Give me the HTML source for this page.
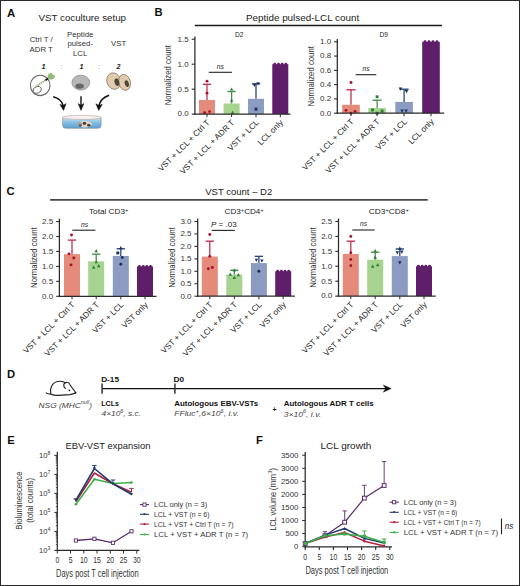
<!DOCTYPE html>
<html><head><meta charset="utf-8"><style>
html,body{margin:0;padding:0;background:#fff;}
body{width:520px;height:586px;overflow:hidden;font-family:"Liberation Sans", sans-serif;}
svg{display:block;}
</style></head><body>
<svg width="520" height="586" viewBox="0 0 520 586" font-family='"Liberation Sans", sans-serif'>
<rect x="0.00" y="0.00" width="520.00" height="586.00" fill="#fff" />
<text x="6.90" y="16.90" font-size="11.4" fill="#111" font-weight="bold" >A</text>
<text x="38.60" y="21.00" font-size="9.6" fill="#222" textLength="87.4" lengthAdjust="spacingAndGlyphs" >VST coculture setup</text>
<text x="41.20" y="42.30" font-size="7.8" fill="#333" text-anchor="middle" >Ctrl T /</text>
<text x="41.20" y="51.80" font-size="7.8" fill="#333" text-anchor="middle" >ADR T</text>
<text x="80.20" y="37.00" font-size="7.8" fill="#333" text-anchor="middle" >Peptide</text>
<text x="80.20" y="46.40" font-size="7.8" fill="#333" text-anchor="middle" >pulsed-</text>
<text x="80.20" y="55.80" font-size="7.8" fill="#333" text-anchor="middle" >LCL</text>
<text x="118.60" y="46.00" font-size="7.8" fill="#333" text-anchor="middle" >VST</text>
<text x="43.50" y="68.80" font-size="7.2" fill="#222" text-anchor="middle" font-weight="bold" font-style="italic" >1</text>
<text x="61.60" y="68.80" font-size="7.2" fill="#888" text-anchor="middle" font-style="italic" >:</text>
<text x="81.60" y="68.80" font-size="7.2" fill="#222" text-anchor="middle" font-weight="bold" font-style="italic" >1</text>
<text x="99.20" y="68.80" font-size="7.2" fill="#888" text-anchor="middle" font-style="italic" >:</text>
<text x="118.40" y="68.80" font-size="7.2" fill="#222" text-anchor="middle" font-weight="bold" font-style="italic" >2</text>
<ellipse cx="40.2" cy="85.4" rx="9.8" ry="10.2" fill="#fff" stroke="#666" stroke-width="1.1"/>
<ellipse cx="37.2" cy="89.8" rx="4.3" ry="3.2" transform="rotate(-20 37.2 89.8)" fill="#fff" stroke="#666" stroke-width="0.9"/>
<line x1="36" y1="86.5" x2="46.5" y2="79.5" stroke="#7a9a60" stroke-width="1.6" stroke-dasharray="1.2 0.8"/>
<line x1="45.5" y1="80.2" x2="48" y2="78.5" stroke="#111" stroke-width="1.8"/>
<path d="M48.0 78.6 C47.6 76.2 48.4 73.4 50.6 73.2 C52.0 73.1 52.6 74.3 52.4 75.0 C54.0 74.6 55.2 76.0 54.4 77.6 C53.6 79.2 50.6 79.8 48.0 78.6 Z" fill="#94bc78" stroke="#7a9f60" stroke-width="0.5"/>
<ellipse cx="80.8" cy="82.6" rx="8.9" ry="7.4" fill="#b8b8b8" stroke="#8e8e8e" stroke-width="0.8"/>
<ellipse cx="79.6" cy="86.1" rx="4.3" ry="2.6" fill="#666"/>
<ellipse cx="113.8" cy="81.1" rx="6.9" ry="8.3" transform="rotate(-18 113.8 81.1)" fill="#e2ccae" stroke="#8f7b66" stroke-width="0.8"/>
<ellipse cx="124.6" cy="82.4" rx="5.8" ry="8.1" transform="rotate(-15 124.6 82.4)" fill="#e2ccae" stroke="#8f7b66" stroke-width="0.8"/>
<ellipse cx="116.9" cy="82.2" rx="2.3" ry="3.9" transform="rotate(-15 116.9 82.2)" fill="#4c463b"/>
<ellipse cx="126.8" cy="83.6" rx="2.0" ry="3.5" transform="rotate(-15 126.8 83.6)" fill="#4c463b"/>
<path d="M53.2 96.8 Q61.5 98.8 63.3 106" fill="none" stroke="#111" stroke-width="1.5"/>
<path d="M59.9 104.5 L63.6 110.4 L66.1 103.6 L63.2 105.4 Z" fill="#111" stroke="#111" stroke-width="0.5" stroke-linejoin="round"/>
<path d="M81 96.3 L81 106" fill="none" stroke="#222" stroke-width="1.5"/>
<path d="M78.1 103.6 L81 110.4 L83.9 103.6 L81 105.2 Z" fill="#111" stroke="#111" stroke-width="0.5" stroke-linejoin="round"/>
<path d="M109.1 95.2 Q100.6 98 98.9 106" fill="none" stroke="#111" stroke-width="1.5"/>
<path d="M95.9 103.8 L98.7 110.4 L102.3 104.3 L99.1 105.5 Z" fill="#111" stroke="#111" stroke-width="0.5" stroke-linejoin="round"/>
<defs><linearGradient id="dg" x1="0" y1="0" x2="0" y2="1"><stop offset="0" stop-color="#cfe7f4"/><stop offset="0.45" stop-color="#86bfe2"/><stop offset="1" stop-color="#5b9fd0"/></linearGradient></defs>
<path d="M62.6 117.4 L62.6 125.2 Q62.6 128.3 66.2 128.3 L97.6 128.3 Q101.1 128.3 101.1 125.2 L101.1 117.4 Z" fill="url(#dg)" stroke="#7d8c98" stroke-width="0.6"/>
<ellipse cx="81.85" cy="117.4" rx="19.25" ry="2.1" fill="#f6f0ef" stroke="#b8a4a0" stroke-width="0.6"/>
<ellipse cx="85" cy="124.2" rx="7" ry="3.2" fill="#e3d3c4"/>
<ellipse cx="79.5" cy="124.3" rx="2.6" ry="2.2" fill="#9aa4a8"/>
<ellipse cx="84.5" cy="123.4" rx="1.8" ry="1.4" fill="#3d3a30"/>
<ellipse cx="88.8" cy="125.2" rx="1.7" ry="1.3" fill="#3d3a30"/>
<ellipse cx="80.3" cy="125.6" rx="1.5" ry="1.1" fill="#4a4a52"/>
<text x="154.50" y="15.90" font-size="11.2" fill="#111" font-weight="bold" >B</text>
<text x="245.90" y="20.90" font-size="9.8" fill="#222" textLength="113.3" lengthAdjust="spacingAndGlyphs" >Peptide pulsed-LCL count</text>
<line x1="194.80" y1="25.50" x2="441.90" y2="25.50" stroke="#1a1a1a" stroke-width="1.35" />
<text x="239.30" y="37.00" font-size="6.6" fill="#222" text-anchor="middle" >D2</text>
<text x="383.60" y="36.60" font-size="6.6" fill="#222" text-anchor="middle" >D9</text>
<rect x="199.00" y="99.98" width="16.00" height="14.12" fill="#e48b7b" />
<line x1="207.00" y1="99.98" x2="207.00" y2="84.31" stroke="#bf3352" stroke-width="1.3" />
<line x1="202.84" y1="84.31" x2="211.16" y2="84.31" stroke="#bf3352" stroke-width="1.4" />
<circle cx="207.00" cy="81.17" r="1.45" fill="#a80f2c"/>
<circle cx="207.00" cy="93.14" r="1.45" fill="#a80f2c"/>
<circle cx="204.60" cy="112.60" r="1.45" fill="#a80f2c"/>
<circle cx="209.50" cy="111.60" r="1.45" fill="#a80f2c"/>
<rect x="223.60" y="103.52" width="16.00" height="10.58" fill="#a7d391" />
<line x1="231.60" y1="103.52" x2="231.60" y2="91.50" stroke="#4a8f50" stroke-width="1.3" />
<line x1="227.44" y1="91.50" x2="235.76" y2="91.50" stroke="#4a8f50" stroke-width="1.4" />
<path d="M231.60 87.41L233.34 90.60L229.86 90.60Z" fill="#2f7d36"/>
<path d="M231.60 98.39L233.34 101.58L229.86 101.58Z" fill="#2f7d36"/>
<path d="M232.60 110.86L234.34 114.05L230.86 114.05Z" fill="#2f7d36"/>
<rect x="248.00" y="98.78" width="16.00" height="15.32" fill="#8c9bc2" />
<line x1="256.00" y1="98.78" x2="256.00" y2="83.81" stroke="#2a4a7c" stroke-width="1.3" />
<line x1="251.84" y1="83.81" x2="260.16" y2="83.81" stroke="#2a4a7c" stroke-width="1.4" />
<path d="M254.50 86.90L256.24 83.71L252.76 83.71Z" fill="#1b2f58"/>
<path d="M258.00 85.40L259.74 82.21L256.26 82.21Z" fill="#1b2f58"/>
<rect x="254.55" y="107.66" width="2.90" height="2.90" fill="#1b2f58"/>
<rect x="272.30" y="64.20" width="16.00" height="49.90" fill="#5f1e6a" />
<circle cx="274.80" cy="64.20" r="1.45" fill="#5f1e6a"/>
<circle cx="278.50" cy="64.20" r="1.45" fill="#5f1e6a"/>
<circle cx="282.10" cy="64.20" r="1.45" fill="#5f1e6a"/>
<circle cx="285.80" cy="64.20" r="1.45" fill="#5f1e6a"/>
<line x1="194.90" y1="36.40" x2="194.90" y2="114.70" stroke="#2a2a2a" stroke-width="1.25" />
<line x1="194.30" y1="114.10" x2="290.50" y2="114.10" stroke="#2a2a2a" stroke-width="1.25" />
<line x1="191.70" y1="114.10" x2="194.90" y2="114.10" stroke="#2a2a2a" stroke-width="1.1" />
<text x="188.70" y="116.45" font-size="8.0" fill="#333" text-anchor="end" >0.0</text>
<line x1="191.70" y1="89.15" x2="194.90" y2="89.15" stroke="#2a2a2a" stroke-width="1.1" />
<text x="188.70" y="91.50" font-size="8.0" fill="#333" text-anchor="end" >0.5</text>
<line x1="191.70" y1="64.20" x2="194.90" y2="64.20" stroke="#2a2a2a" stroke-width="1.1" />
<text x="188.70" y="66.55" font-size="8.0" fill="#333" text-anchor="end" >1.0</text>
<line x1="191.70" y1="39.25" x2="194.90" y2="39.25" stroke="#2a2a2a" stroke-width="1.1" />
<text x="188.70" y="41.60" font-size="8.0" fill="#333" text-anchor="end" >1.5</text>
<line x1="207.00" y1="114.10" x2="207.00" y2="117.10" stroke="#2a2a2a" stroke-width="1" />
<line x1="231.60" y1="114.10" x2="231.60" y2="117.10" stroke="#2a2a2a" stroke-width="1" />
<line x1="256.00" y1="114.10" x2="256.00" y2="117.10" stroke="#2a2a2a" stroke-width="1" />
<line x1="280.30" y1="114.10" x2="280.30" y2="117.10" stroke="#2a2a2a" stroke-width="1" />
<text x="210.30" y="123.10" font-size="8.2" fill="#222" text-anchor="end" transform="rotate(-45 210.30 123.10)" >VST + LCL + Ctrl T</text>
<text x="234.90" y="123.10" font-size="8.2" fill="#222" text-anchor="end" transform="rotate(-45 234.90 123.10)" >VST + LCL + ADR T</text>
<text x="259.30" y="123.10" font-size="8.2" fill="#222" text-anchor="end" transform="rotate(-45 259.30 123.10)" >VST + LCL</text>
<text x="283.60" y="123.10" font-size="8.2" fill="#222" text-anchor="end" transform="rotate(-45 283.60 123.10)" >LCL only</text>
<text x="171.40" y="75.20" font-size="8.4" fill="#333" text-anchor="middle" textLength="60.3" lengthAdjust="spacingAndGlyphs" transform="rotate(-90 171.40 75.20)" >Normalized count</text>
<line x1="208.80" y1="72.30" x2="231.90" y2="72.30" stroke="#222" stroke-width="1.1" />
<text x="220.30" y="68.60" font-size="6.6" fill="#222" text-anchor="middle" font-style="italic" >ns</text>
<rect x="342.20" y="104.77" width="17.60" height="8.43" fill="#e48b7b" />
<line x1="351.00" y1="104.77" x2="351.00" y2="89.78" stroke="#bf3352" stroke-width="1.3" />
<line x1="346.42" y1="89.78" x2="355.58" y2="89.78" stroke="#bf3352" stroke-width="1.4" />
<circle cx="351.00" cy="82.50" r="1.45" fill="#a80f2c"/>
<circle cx="346.00" cy="110.34" r="1.45" fill="#a80f2c"/>
<circle cx="351.00" cy="113.20" r="1.45" fill="#a80f2c"/>
<circle cx="355.00" cy="111.42" r="1.45" fill="#a80f2c"/>
<rect x="368.30" y="107.99" width="17.60" height="5.21" fill="#a7d391" />
<line x1="377.10" y1="107.99" x2="377.10" y2="100.21" stroke="#4a8f50" stroke-width="1.3" />
<line x1="372.52" y1="100.21" x2="381.68" y2="100.21" stroke="#4a8f50" stroke-width="1.4" />
<rect x="375.65" y="95.33" width="2.90" height="2.90" fill="#2f7d36"/>
<rect x="371.05" y="108.54" width="2.90" height="2.90" fill="#2f7d36"/>
<rect x="375.65" y="111.75" width="2.90" height="2.90" fill="#2f7d36"/>
<rect x="380.65" y="109.61" width="2.90" height="2.90" fill="#2f7d36"/>
<rect x="395.30" y="101.92" width="17.60" height="11.28" fill="#8c9bc2" />
<line x1="404.10" y1="101.92" x2="404.10" y2="89.21" stroke="#2a4a7c" stroke-width="1.3" />
<line x1="399.52" y1="89.21" x2="408.68" y2="89.21" stroke="#2a4a7c" stroke-width="1.4" />
<path d="M400.50 90.81L402.24 87.62L398.76 87.62Z" fill="#1b2f58"/>
<path d="M406.50 93.16L408.24 89.97L404.76 89.97Z" fill="#1b2f58"/>
<path d="M402.10 112.80L403.84 109.61L400.36 109.61Z" fill="#1b2f58"/>
<path d="M406.10 112.80L407.84 109.61L404.36 109.61Z" fill="#1b2f58"/>
<rect x="422.20" y="41.80" width="17.60" height="71.40" fill="#5f1e6a" />
<circle cx="425.00" cy="41.80" r="1.45" fill="#5f1e6a"/>
<circle cx="429.00" cy="41.80" r="1.45" fill="#5f1e6a"/>
<circle cx="433.00" cy="41.80" r="1.45" fill="#5f1e6a"/>
<circle cx="437.00" cy="41.80" r="1.45" fill="#5f1e6a"/>
<line x1="337.30" y1="39.00" x2="337.30" y2="113.80" stroke="#2a2a2a" stroke-width="1.25" />
<line x1="336.70" y1="113.20" x2="444.20" y2="113.20" stroke="#2a2a2a" stroke-width="1.25" />
<line x1="334.10" y1="113.20" x2="337.30" y2="113.20" stroke="#2a2a2a" stroke-width="1.1" />
<text x="331.10" y="115.55" font-size="8.0" fill="#333" text-anchor="end" >0.0</text>
<line x1="334.10" y1="98.92" x2="337.30" y2="98.92" stroke="#2a2a2a" stroke-width="1.1" />
<text x="331.10" y="101.27" font-size="8.0" fill="#333" text-anchor="end" >0.2</text>
<line x1="334.10" y1="84.64" x2="337.30" y2="84.64" stroke="#2a2a2a" stroke-width="1.1" />
<text x="331.10" y="86.99" font-size="8.0" fill="#333" text-anchor="end" >0.4</text>
<line x1="334.10" y1="70.36" x2="337.30" y2="70.36" stroke="#2a2a2a" stroke-width="1.1" />
<text x="331.10" y="72.71" font-size="8.0" fill="#333" text-anchor="end" >0.6</text>
<line x1="334.10" y1="56.08" x2="337.30" y2="56.08" stroke="#2a2a2a" stroke-width="1.1" />
<text x="331.10" y="58.43" font-size="8.0" fill="#333" text-anchor="end" >0.8</text>
<line x1="334.10" y1="41.80" x2="337.30" y2="41.80" stroke="#2a2a2a" stroke-width="1.1" />
<text x="331.10" y="44.15" font-size="8.0" fill="#333" text-anchor="end" >1.0</text>
<line x1="351.00" y1="113.20" x2="351.00" y2="116.20" stroke="#2a2a2a" stroke-width="1" />
<line x1="377.10" y1="113.20" x2="377.10" y2="116.20" stroke="#2a2a2a" stroke-width="1" />
<line x1="404.10" y1="113.20" x2="404.10" y2="116.20" stroke="#2a2a2a" stroke-width="1" />
<line x1="431.00" y1="113.20" x2="431.00" y2="116.20" stroke="#2a2a2a" stroke-width="1" />
<text x="354.30" y="122.20" font-size="8.2" fill="#222" text-anchor="end" transform="rotate(-45 354.30 122.20)" >VST + LCL + Ctrl T</text>
<text x="380.40" y="122.20" font-size="8.2" fill="#222" text-anchor="end" transform="rotate(-45 380.40 122.20)" >VST + LCL + ADR T</text>
<text x="407.40" y="122.20" font-size="8.2" fill="#222" text-anchor="end" transform="rotate(-45 407.40 122.20)" >VST + LCL</text>
<text x="434.30" y="122.20" font-size="8.2" fill="#222" text-anchor="end" transform="rotate(-45 434.30 122.20)" >LCL only</text>
<text x="314.20" y="76.30" font-size="8.4" fill="#333" text-anchor="middle" textLength="60.3" lengthAdjust="spacingAndGlyphs" transform="rotate(-90 314.20 76.30)" >Normalized count</text>
<line x1="355.60" y1="74.70" x2="376.30" y2="74.70" stroke="#222" stroke-width="1.1" />
<text x="366.00" y="71.00" font-size="6.6" fill="#222" text-anchor="middle" font-style="italic" >ns</text>
<text x="6.60" y="195.20" font-size="11.2" fill="#111" font-weight="bold" >C</text>
<text x="205.20" y="195.00" font-size="9.8" fill="#222" textLength="67.1" lengthAdjust="spacingAndGlyphs" >VST count – D2</text>
<line x1="50.10" y1="199.90" x2="427.70" y2="199.90" stroke="#484848" stroke-width="1.8" />
<text x="89.00" y="213.80" font-size="8.0" fill="#222" textLength="39.3" lengthAdjust="spacingAndGlyphs" >Total CD3<tspan font-size="5.6" dy="-2.3">+</tspan></text>
<text x="224.60" y="214.00" font-size="8.0" fill="#222" textLength="39.1" lengthAdjust="spacingAndGlyphs" >CD3<tspan font-size="5.6" dy="-2.3">+</tspan><tspan dy="2.3">CD4</tspan><tspan font-size="5.6" dy="-2.3">+</tspan></text>
<text x="368.80" y="214.00" font-size="8.0" fill="#222" textLength="40.0" lengthAdjust="spacingAndGlyphs" >CD3<tspan font-size="5.6" dy="-2.3">+</tspan><tspan dy="2.3">CD8</tspan><tspan font-size="5.6" dy="-2.3">+</tspan></text>
<rect x="64.00" y="254.14" width="16.00" height="42.16" fill="#e48b7b" />
<line x1="72.00" y1="254.14" x2="72.00" y2="240.09" stroke="#bf3352" stroke-width="1.3" />
<line x1="67.84" y1="240.09" x2="76.16" y2="240.09" stroke="#bf3352" stroke-width="1.4" />
<circle cx="71.50" cy="235.01" r="1.45" fill="#a80f2c"/>
<circle cx="69.00" cy="253.84" r="1.45" fill="#a80f2c"/>
<circle cx="73.80" cy="258.03" r="1.45" fill="#a80f2c"/>
<circle cx="71.00" cy="264.91" r="1.45" fill="#a80f2c"/>
<rect x="88.20" y="261.32" width="16.00" height="34.98" fill="#a7d391" />
<line x1="96.20" y1="261.32" x2="96.20" y2="254.14" stroke="#4a8f50" stroke-width="1.3" />
<line x1="92.04" y1="254.14" x2="100.36" y2="254.14" stroke="#4a8f50" stroke-width="1.4" />
<path d="M96.20 249.11L97.94 252.30L94.46 252.30Z" fill="#2f7d36"/>
<path d="M96.20 260.18L97.94 263.37L94.46 263.37Z" fill="#2f7d36"/>
<path d="M93.70 265.56L95.44 268.75L91.96 268.75Z" fill="#2f7d36"/>
<path d="M98.70 264.06L100.44 267.25L96.96 267.25Z" fill="#2f7d36"/>
<rect x="112.80" y="255.94" width="16.00" height="40.37" fill="#8c9bc2" />
<line x1="120.80" y1="255.94" x2="120.80" y2="248.76" stroke="#2a4a7c" stroke-width="1.3" />
<line x1="116.64" y1="248.76" x2="124.96" y2="248.76" stroke="#2a4a7c" stroke-width="1.4" />
<rect x="116.35" y="251.50" width="2.90" height="2.90" fill="#1b2f58"/>
<circle cx="122.30" cy="257.43" r="1.45" fill="#1b2f58"/>
<circle cx="120.80" cy="264.31" r="1.45" fill="#1b2f58"/>
<path d="M120.80 246.12L122.54 249.31L119.06 249.31Z" fill="#1b2f58"/>
<rect x="137.00" y="266.40" width="16.00" height="29.90" fill="#5f1e6a" />
<circle cx="139.50" cy="266.40" r="1.45" fill="#5f1e6a"/>
<circle cx="143.20" cy="266.40" r="1.45" fill="#5f1e6a"/>
<circle cx="146.80" cy="266.40" r="1.45" fill="#5f1e6a"/>
<circle cx="150.50" cy="266.40" r="1.45" fill="#5f1e6a"/>
<line x1="59.40" y1="218.70" x2="59.40" y2="296.90" stroke="#2a2a2a" stroke-width="1.25" />
<line x1="58.80" y1="296.30" x2="156.50" y2="296.30" stroke="#2a2a2a" stroke-width="1.25" />
<line x1="56.20" y1="296.30" x2="59.40" y2="296.30" stroke="#2a2a2a" stroke-width="1.1" />
<text x="53.20" y="298.65" font-size="8.0" fill="#333" text-anchor="end" >0.0</text>
<line x1="56.20" y1="281.35" x2="59.40" y2="281.35" stroke="#2a2a2a" stroke-width="1.1" />
<text x="53.20" y="283.70" font-size="8.0" fill="#333" text-anchor="end" >0.5</text>
<line x1="56.20" y1="266.40" x2="59.40" y2="266.40" stroke="#2a2a2a" stroke-width="1.1" />
<text x="53.20" y="268.75" font-size="8.0" fill="#333" text-anchor="end" >1.0</text>
<line x1="56.20" y1="251.45" x2="59.40" y2="251.45" stroke="#2a2a2a" stroke-width="1.1" />
<text x="53.20" y="253.80" font-size="8.0" fill="#333" text-anchor="end" >1.5</text>
<line x1="56.20" y1="236.50" x2="59.40" y2="236.50" stroke="#2a2a2a" stroke-width="1.1" />
<text x="53.20" y="238.85" font-size="8.0" fill="#333" text-anchor="end" >2.0</text>
<line x1="56.20" y1="221.55" x2="59.40" y2="221.55" stroke="#2a2a2a" stroke-width="1.1" />
<text x="53.20" y="223.90" font-size="8.0" fill="#333" text-anchor="end" >2.5</text>
<line x1="72.00" y1="296.30" x2="72.00" y2="299.30" stroke="#2a2a2a" stroke-width="1" />
<line x1="96.20" y1="296.30" x2="96.20" y2="299.30" stroke="#2a2a2a" stroke-width="1" />
<line x1="120.80" y1="296.30" x2="120.80" y2="299.30" stroke="#2a2a2a" stroke-width="1" />
<line x1="145.00" y1="296.30" x2="145.00" y2="299.30" stroke="#2a2a2a" stroke-width="1" />
<text x="75.30" y="305.30" font-size="8.2" fill="#222" text-anchor="end" transform="rotate(-45 75.30 305.30)" >VST + LCL + Ctrl T</text>
<text x="99.50" y="305.30" font-size="8.2" fill="#222" text-anchor="end" transform="rotate(-45 99.50 305.30)" >VST + LCL + ADR T</text>
<text x="124.10" y="305.30" font-size="8.2" fill="#222" text-anchor="end" transform="rotate(-45 124.10 305.30)" >VST + LCL</text>
<text x="148.30" y="305.30" font-size="8.2" fill="#222" text-anchor="end" transform="rotate(-45 148.30 305.30)" >VST only</text>
<text x="36.80" y="257.60" font-size="8.4" fill="#333" text-anchor="middle" textLength="60.6" lengthAdjust="spacingAndGlyphs" transform="rotate(-90 36.80 257.60)" >Normalized count</text>
<line x1="72.30" y1="230.20" x2="95.40" y2="230.20" stroke="#222" stroke-width="1.1" />
<text x="84.60" y="227.20" font-size="6.6" fill="#222" text-anchor="middle" font-style="italic" >ns</text>
<rect x="201.80" y="256.61" width="16.00" height="39.59" fill="#e48b7b" />
<line x1="209.80" y1="256.61" x2="209.80" y2="241.17" stroke="#bf3352" stroke-width="1.3" />
<line x1="205.64" y1="241.17" x2="213.96" y2="241.17" stroke="#bf3352" stroke-width="1.4" />
<circle cx="209.80" cy="234.45" r="1.45" fill="#a80f2c"/>
<circle cx="209.80" cy="256.36" r="1.45" fill="#a80f2c"/>
<circle cx="208.30" cy="268.81" r="1.45" fill="#a80f2c"/>
<circle cx="212.30" cy="267.56" r="1.45" fill="#a80f2c"/>
<rect x="226.30" y="274.54" width="16.00" height="21.66" fill="#a7d391" />
<line x1="234.30" y1="274.54" x2="234.30" y2="270.30" stroke="#4a8f50" stroke-width="1.3" />
<line x1="230.14" y1="270.30" x2="238.46" y2="270.30" stroke="#4a8f50" stroke-width="1.4" />
<path d="M234.30 268.31L236.04 271.50L232.56 271.50Z" fill="#2f7d36"/>
<path d="M230.30 272.55L232.04 275.74L228.56 275.74Z" fill="#2f7d36"/>
<path d="M234.30 275.78L236.04 278.97L232.56 278.97Z" fill="#2f7d36"/>
<path d="M238.30 273.05L240.04 276.24L236.56 276.24Z" fill="#2f7d36"/>
<rect x="250.90" y="263.08" width="16.00" height="33.12" fill="#8c9bc2" />
<line x1="258.90" y1="263.08" x2="258.90" y2="256.36" stroke="#2a4a7c" stroke-width="1.3" />
<line x1="254.74" y1="256.36" x2="263.06" y2="256.36" stroke="#2a4a7c" stroke-width="1.4" />
<path d="M256.40 261.83L258.14 258.64L254.66 258.64Z" fill="#1b2f58"/>
<path d="M261.90 262.58L263.64 259.39L260.16 259.39Z" fill="#1b2f58"/>
<circle cx="258.90" cy="271.30" r="1.45" fill="#1b2f58"/>
<rect x="275.20" y="271.30" width="16.00" height="24.90" fill="#5f1e6a" />
<circle cx="277.70" cy="271.30" r="1.45" fill="#5f1e6a"/>
<circle cx="281.40" cy="271.30" r="1.45" fill="#5f1e6a"/>
<circle cx="285.00" cy="271.30" r="1.45" fill="#5f1e6a"/>
<circle cx="288.70" cy="271.30" r="1.45" fill="#5f1e6a"/>
<line x1="197.70" y1="218.50" x2="197.70" y2="296.80" stroke="#2a2a2a" stroke-width="1.25" />
<line x1="197.10" y1="296.20" x2="295.00" y2="296.20" stroke="#2a2a2a" stroke-width="1.25" />
<line x1="194.50" y1="296.20" x2="197.70" y2="296.20" stroke="#2a2a2a" stroke-width="1.1" />
<text x="191.50" y="298.55" font-size="8.0" fill="#333" text-anchor="end" >0.0</text>
<line x1="194.50" y1="283.75" x2="197.70" y2="283.75" stroke="#2a2a2a" stroke-width="1.1" />
<text x="191.50" y="286.10" font-size="8.0" fill="#333" text-anchor="end" >0.5</text>
<line x1="194.50" y1="271.30" x2="197.70" y2="271.30" stroke="#2a2a2a" stroke-width="1.1" />
<text x="191.50" y="273.65" font-size="8.0" fill="#333" text-anchor="end" >1.0</text>
<line x1="194.50" y1="258.85" x2="197.70" y2="258.85" stroke="#2a2a2a" stroke-width="1.1" />
<text x="191.50" y="261.20" font-size="8.0" fill="#333" text-anchor="end" >1.5</text>
<line x1="194.50" y1="246.40" x2="197.70" y2="246.40" stroke="#2a2a2a" stroke-width="1.1" />
<text x="191.50" y="248.75" font-size="8.0" fill="#333" text-anchor="end" >2.0</text>
<line x1="194.50" y1="233.95" x2="197.70" y2="233.95" stroke="#2a2a2a" stroke-width="1.1" />
<text x="191.50" y="236.30" font-size="8.0" fill="#333" text-anchor="end" >2.5</text>
<line x1="194.50" y1="221.50" x2="197.70" y2="221.50" stroke="#2a2a2a" stroke-width="1.1" />
<text x="191.50" y="223.85" font-size="8.0" fill="#333" text-anchor="end" >3.0</text>
<line x1="209.80" y1="296.20" x2="209.80" y2="299.20" stroke="#2a2a2a" stroke-width="1" />
<line x1="234.30" y1="296.20" x2="234.30" y2="299.20" stroke="#2a2a2a" stroke-width="1" />
<line x1="258.90" y1="296.20" x2="258.90" y2="299.20" stroke="#2a2a2a" stroke-width="1" />
<line x1="283.20" y1="296.20" x2="283.20" y2="299.20" stroke="#2a2a2a" stroke-width="1" />
<text x="213.10" y="305.20" font-size="8.2" fill="#222" text-anchor="end" transform="rotate(-45 213.10 305.20)" >VST + LCL + Ctrl T</text>
<text x="237.60" y="305.20" font-size="8.2" fill="#222" text-anchor="end" transform="rotate(-45 237.60 305.20)" >VST + LCL + ADR T</text>
<text x="262.20" y="305.20" font-size="8.2" fill="#222" text-anchor="end" transform="rotate(-45 262.20 305.20)" >VST + LCL</text>
<text x="286.50" y="305.20" font-size="8.2" fill="#222" text-anchor="end" transform="rotate(-45 286.50 305.20)" >VST only</text>
<text x="174.50" y="257.50" font-size="8.4" fill="#333" text-anchor="middle" textLength="60.5" lengthAdjust="spacingAndGlyphs" transform="rotate(-90 174.50 257.50)" >Normalized count</text>
<line x1="211.70" y1="230.40" x2="234.80" y2="230.40" stroke="#222" stroke-width="1.1" />
<text x="210.90" y="227.10" font-size="7.6" fill="#222" textLength="25.8" lengthAdjust="spacingAndGlyphs" ><tspan font-style="italic">P</tspan> = .03</text>
<rect x="342.80" y="254.01" width="16.00" height="42.09" fill="#e48b7b" />
<line x1="350.80" y1="254.01" x2="350.80" y2="241.18" stroke="#bf3352" stroke-width="1.3" />
<line x1="346.64" y1="241.18" x2="354.96" y2="241.18" stroke="#bf3352" stroke-width="1.4" />
<circle cx="350.80" cy="236.40" r="1.45" fill="#a80f2c"/>
<circle cx="350.80" cy="252.82" r="1.45" fill="#a80f2c"/>
<circle cx="350.80" cy="259.38" r="1.45" fill="#a80f2c"/>
<circle cx="350.80" cy="265.65" r="1.45" fill="#a80f2c"/>
<rect x="367.20" y="259.68" width="16.00" height="36.42" fill="#a7d391" />
<line x1="375.20" y1="259.68" x2="375.20" y2="252.22" stroke="#4a8f50" stroke-width="1.3" />
<line x1="371.04" y1="252.22" x2="379.36" y2="252.22" stroke="#4a8f50" stroke-width="1.4" />
<path d="M375.20 248.99L376.94 252.18L373.46 252.18Z" fill="#2f7d36"/>
<path d="M375.20 255.56L376.94 258.75L373.46 258.75Z" fill="#2f7d36"/>
<path d="M372.70 264.51L374.44 267.70L370.96 267.70Z" fill="#2f7d36"/>
<path d="M377.70 263.02L379.44 266.21L375.96 266.21Z" fill="#2f7d36"/>
<rect x="391.80" y="256.10" width="16.00" height="40.00" fill="#8c9bc2" />
<line x1="399.80" y1="256.10" x2="399.80" y2="248.94" stroke="#2a4a7c" stroke-width="1.3" />
<line x1="395.64" y1="248.94" x2="403.96" y2="248.94" stroke="#2a4a7c" stroke-width="1.4" />
<path d="M397.30 254.56L399.04 251.37L395.56 251.37Z" fill="#1b2f58"/>
<path d="M401.80 253.66L403.54 250.47L400.06 250.47Z" fill="#1b2f58"/>
<path d="M399.80 264.41L401.54 261.22L398.06 261.22Z" fill="#1b2f58"/>
<path d="M399.80 246.60L401.54 249.79L398.06 249.79Z" fill="#1b2f58"/>
<rect x="416.00" y="266.25" width="16.00" height="29.85" fill="#5f1e6a" />
<circle cx="418.50" cy="266.25" r="1.45" fill="#5f1e6a"/>
<circle cx="422.20" cy="266.25" r="1.45" fill="#5f1e6a"/>
<circle cx="425.80" cy="266.25" r="1.45" fill="#5f1e6a"/>
<circle cx="429.50" cy="266.25" r="1.45" fill="#5f1e6a"/>
<line x1="338.50" y1="218.50" x2="338.50" y2="296.70" stroke="#2a2a2a" stroke-width="1.25" />
<line x1="337.90" y1="296.10" x2="435.70" y2="296.10" stroke="#2a2a2a" stroke-width="1.25" />
<line x1="335.30" y1="296.10" x2="338.50" y2="296.10" stroke="#2a2a2a" stroke-width="1.1" />
<text x="332.30" y="298.45" font-size="8.0" fill="#333" text-anchor="end" >0.0</text>
<line x1="335.30" y1="281.18" x2="338.50" y2="281.18" stroke="#2a2a2a" stroke-width="1.1" />
<text x="332.30" y="283.53" font-size="8.0" fill="#333" text-anchor="end" >0.5</text>
<line x1="335.30" y1="266.25" x2="338.50" y2="266.25" stroke="#2a2a2a" stroke-width="1.1" />
<text x="332.30" y="268.60" font-size="8.0" fill="#333" text-anchor="end" >1.0</text>
<line x1="335.30" y1="251.33" x2="338.50" y2="251.33" stroke="#2a2a2a" stroke-width="1.1" />
<text x="332.30" y="253.68" font-size="8.0" fill="#333" text-anchor="end" >1.5</text>
<line x1="335.30" y1="236.40" x2="338.50" y2="236.40" stroke="#2a2a2a" stroke-width="1.1" />
<text x="332.30" y="238.75" font-size="8.0" fill="#333" text-anchor="end" >2.0</text>
<line x1="335.30" y1="221.48" x2="338.50" y2="221.48" stroke="#2a2a2a" stroke-width="1.1" />
<text x="332.30" y="223.83" font-size="8.0" fill="#333" text-anchor="end" >2.5</text>
<line x1="350.80" y1="296.10" x2="350.80" y2="299.10" stroke="#2a2a2a" stroke-width="1" />
<line x1="375.20" y1="296.10" x2="375.20" y2="299.10" stroke="#2a2a2a" stroke-width="1" />
<line x1="399.80" y1="296.10" x2="399.80" y2="299.10" stroke="#2a2a2a" stroke-width="1" />
<line x1="424.00" y1="296.10" x2="424.00" y2="299.10" stroke="#2a2a2a" stroke-width="1" />
<text x="354.10" y="305.10" font-size="8.2" fill="#222" text-anchor="end" transform="rotate(-45 354.10 305.10)" >VST + LCL + Ctrl T</text>
<text x="378.50" y="305.10" font-size="8.2" fill="#222" text-anchor="end" transform="rotate(-45 378.50 305.10)" >VST + LCL + ADR T</text>
<text x="403.10" y="305.10" font-size="8.2" fill="#222" text-anchor="end" transform="rotate(-45 403.10 305.10)" >VST + LCL</text>
<text x="427.30" y="305.10" font-size="8.2" fill="#222" text-anchor="end" transform="rotate(-45 427.30 305.10)" >VST only</text>
<text x="315.80" y="257.60" font-size="8.4" fill="#333" text-anchor="middle" textLength="60.5" lengthAdjust="spacingAndGlyphs" transform="rotate(-90 315.80 257.60)" >Normalized count</text>
<line x1="352.30" y1="230.00" x2="374.60" y2="230.00" stroke="#222" stroke-width="1.1" />
<text x="363.50" y="226.30" font-size="6.6" fill="#222" text-anchor="middle" font-style="italic" >ns</text>
<text x="7.00" y="377.60" font-size="11.2" fill="#111" font-weight="bold" >D</text>
<path d="M45.8 392.6 Q48 394.3 50.8 394 C49.5 386 54 381.3 59.5 381.3 C62.5 381.3 64.5 382 66.3 383.2" fill="none" stroke="#222" stroke-width="1.1"/>
<path d="M65.8 388.6 C62.5 386.5 63.5 382 67 382.3 C68.6 382.4 69.6 383.4 69.8 384.6" fill="none" stroke="#222" stroke-width="1.1"/>
<path d="M69.8 384.6 L75.8 392.8" fill="none" stroke="#222" stroke-width="1.1"/>
<path d="M50.8 394 Q53 395.6 58 395.4 L70 394.6 Q73 394.2 75.8 392.8" fill="none" stroke="#222" stroke-width="1.1"/>
<circle cx="69.3" cy="390.4" r="0.8" fill="#111"/>
<circle cx="75.6" cy="392.8" r="0.9" fill="#111"/>
<text x="38.50" y="407.70" font-size="7.8" fill="#444" font-style="italic" textLength="53.5" lengthAdjust="spacingAndGlyphs" >NSG (MHC<tspan font-size="5" dy="-3.3">null</tspan><tspan dy="3.3">)</tspan></text>
<line x1="102.10" y1="388.60" x2="386.00" y2="388.60" stroke="#111" stroke-width="1.25" />
<path d="M383.3 385.0 L391.2 388.6 L383.3 392.2 L385.6 388.6 Z" fill="#111" stroke="#111" stroke-width="0.4" stroke-linejoin="round"/>
<line x1="102.10" y1="383.50" x2="102.10" y2="393.70" stroke="#333" stroke-width="1.5" />
<line x1="174.90" y1="383.50" x2="174.90" y2="393.70" stroke="#333" stroke-width="1.5" />
<text x="101.20" y="381.50" font-size="8" fill="#111" font-weight="bold" textLength="17.8" lengthAdjust="spacingAndGlyphs" >D-15</text>
<text x="173.40" y="381.50" font-size="7.8" fill="#111" font-weight="bold" textLength="10.6" lengthAdjust="spacingAndGlyphs" >D0</text>
<text x="101.20" y="405.60" font-size="7.8" fill="#111" font-weight="bold" textLength="17.8" lengthAdjust="spacingAndGlyphs" >LCLs</text>
<text x="101.50" y="416.20" font-size="7.8" fill="#444" font-style="italic" textLength="39.5" lengthAdjust="spacingAndGlyphs" >4×10<tspan font-size="5" dy="-3.3">6</tspan><tspan dy="3.3">, s.c.</tspan></text>
<text x="174.20" y="405.60" font-size="7.6" fill="#111" font-weight="bold" textLength="84" lengthAdjust="spacingAndGlyphs" >Autologous EBV-VSTs</text>
<text x="174.20" y="416.00" font-size="7.8" fill="#444" font-style="italic" textLength="64.6" lengthAdjust="spacingAndGlyphs" >FFluc<tspan font-size="5" dy="-3.3">+</tspan><tspan dy="3.3">,6×10</tspan><tspan font-size="5" dy="-3.3">6</tspan><tspan dy="3.3">, i.v.</tspan></text>
<text x="274.50" y="412.00" font-size="7" fill="#222" text-anchor="middle" font-weight="bold" >+</text>
<text x="283.70" y="405.80" font-size="7.6" fill="#111" font-weight="bold" textLength="90" lengthAdjust="spacingAndGlyphs" >Autologous ADR T cells</text>
<text x="283.70" y="416.50" font-size="7.8" fill="#444" font-style="italic" textLength="37.5" lengthAdjust="spacingAndGlyphs" >3×10<tspan font-size="5" dy="-3.3">6</tspan><tspan dy="3.3">, i.v.</tspan></text>
<text x="7.20" y="443.90" font-size="11.2" fill="#111" font-weight="bold" >E</text>
<text x="65.40" y="448.80" font-size="9.8" fill="#222" textLength="85" lengthAdjust="spacingAndGlyphs" >EBV-VST expansion</text>
<line x1="55.80" y1="544.68" x2="57.30" y2="544.68" stroke="#2a2a2a" stroke-width="0.8" />
<line x1="55.80" y1="541.33" x2="57.30" y2="541.33" stroke="#2a2a2a" stroke-width="0.8" />
<line x1="55.80" y1="538.96" x2="57.30" y2="538.96" stroke="#2a2a2a" stroke-width="0.8" />
<line x1="55.80" y1="537.12" x2="57.30" y2="537.12" stroke="#2a2a2a" stroke-width="0.8" />
<line x1="55.80" y1="535.62" x2="57.30" y2="535.62" stroke="#2a2a2a" stroke-width="0.8" />
<line x1="55.80" y1="534.34" x2="57.30" y2="534.34" stroke="#2a2a2a" stroke-width="0.8" />
<line x1="55.80" y1="533.24" x2="57.30" y2="533.24" stroke="#2a2a2a" stroke-width="0.8" />
<line x1="55.80" y1="532.27" x2="57.30" y2="532.27" stroke="#2a2a2a" stroke-width="0.8" />
<line x1="55.80" y1="525.68" x2="57.30" y2="525.68" stroke="#2a2a2a" stroke-width="0.8" />
<line x1="55.80" y1="522.33" x2="57.30" y2="522.33" stroke="#2a2a2a" stroke-width="0.8" />
<line x1="55.80" y1="519.96" x2="57.30" y2="519.96" stroke="#2a2a2a" stroke-width="0.8" />
<line x1="55.80" y1="518.12" x2="57.30" y2="518.12" stroke="#2a2a2a" stroke-width="0.8" />
<line x1="55.80" y1="516.62" x2="57.30" y2="516.62" stroke="#2a2a2a" stroke-width="0.8" />
<line x1="55.80" y1="515.34" x2="57.30" y2="515.34" stroke="#2a2a2a" stroke-width="0.8" />
<line x1="55.80" y1="514.24" x2="57.30" y2="514.24" stroke="#2a2a2a" stroke-width="0.8" />
<line x1="55.80" y1="513.27" x2="57.30" y2="513.27" stroke="#2a2a2a" stroke-width="0.8" />
<line x1="55.80" y1="506.68" x2="57.30" y2="506.68" stroke="#2a2a2a" stroke-width="0.8" />
<line x1="55.80" y1="503.33" x2="57.30" y2="503.33" stroke="#2a2a2a" stroke-width="0.8" />
<line x1="55.80" y1="500.96" x2="57.30" y2="500.96" stroke="#2a2a2a" stroke-width="0.8" />
<line x1="55.80" y1="499.12" x2="57.30" y2="499.12" stroke="#2a2a2a" stroke-width="0.8" />
<line x1="55.80" y1="497.62" x2="57.30" y2="497.62" stroke="#2a2a2a" stroke-width="0.8" />
<line x1="55.80" y1="496.34" x2="57.30" y2="496.34" stroke="#2a2a2a" stroke-width="0.8" />
<line x1="55.80" y1="495.24" x2="57.30" y2="495.24" stroke="#2a2a2a" stroke-width="0.8" />
<line x1="55.80" y1="494.27" x2="57.30" y2="494.27" stroke="#2a2a2a" stroke-width="0.8" />
<line x1="55.80" y1="487.68" x2="57.30" y2="487.68" stroke="#2a2a2a" stroke-width="0.8" />
<line x1="55.80" y1="484.33" x2="57.30" y2="484.33" stroke="#2a2a2a" stroke-width="0.8" />
<line x1="55.80" y1="481.96" x2="57.30" y2="481.96" stroke="#2a2a2a" stroke-width="0.8" />
<line x1="55.80" y1="480.12" x2="57.30" y2="480.12" stroke="#2a2a2a" stroke-width="0.8" />
<line x1="55.80" y1="478.62" x2="57.30" y2="478.62" stroke="#2a2a2a" stroke-width="0.8" />
<line x1="55.80" y1="477.34" x2="57.30" y2="477.34" stroke="#2a2a2a" stroke-width="0.8" />
<line x1="55.80" y1="476.24" x2="57.30" y2="476.24" stroke="#2a2a2a" stroke-width="0.8" />
<line x1="55.80" y1="475.27" x2="57.30" y2="475.27" stroke="#2a2a2a" stroke-width="0.8" />
<line x1="55.80" y1="468.68" x2="57.30" y2="468.68" stroke="#2a2a2a" stroke-width="0.8" />
<line x1="55.80" y1="465.33" x2="57.30" y2="465.33" stroke="#2a2a2a" stroke-width="0.8" />
<line x1="55.80" y1="462.96" x2="57.30" y2="462.96" stroke="#2a2a2a" stroke-width="0.8" />
<line x1="55.80" y1="461.12" x2="57.30" y2="461.12" stroke="#2a2a2a" stroke-width="0.8" />
<line x1="55.80" y1="459.62" x2="57.30" y2="459.62" stroke="#2a2a2a" stroke-width="0.8" />
<line x1="55.80" y1="458.34" x2="57.30" y2="458.34" stroke="#2a2a2a" stroke-width="0.8" />
<line x1="55.80" y1="457.24" x2="57.30" y2="457.24" stroke="#2a2a2a" stroke-width="0.8" />
<line x1="55.80" y1="456.27" x2="57.30" y2="456.27" stroke="#2a2a2a" stroke-width="0.8" />
<line x1="54.30" y1="550.40" x2="57.30" y2="550.40" stroke="#2a2a2a" stroke-width="1" />
<text x="50.30" y="553.10" font-size="7.6" fill="#333" text-anchor="end" >10<tspan font-size="5.2" dy="-3.3">3</tspan></text>
<line x1="54.30" y1="531.40" x2="57.30" y2="531.40" stroke="#2a2a2a" stroke-width="1" />
<text x="50.30" y="534.10" font-size="7.6" fill="#333" text-anchor="end" >10<tspan font-size="5.2" dy="-3.3">4</tspan></text>
<line x1="54.30" y1="512.40" x2="57.30" y2="512.40" stroke="#2a2a2a" stroke-width="1" />
<text x="50.30" y="515.10" font-size="7.6" fill="#333" text-anchor="end" >10<tspan font-size="5.2" dy="-3.3">5</tspan></text>
<line x1="54.30" y1="493.40" x2="57.30" y2="493.40" stroke="#2a2a2a" stroke-width="1" />
<text x="50.30" y="496.10" font-size="7.6" fill="#333" text-anchor="end" >10<tspan font-size="5.2" dy="-3.3">6</tspan></text>
<line x1="54.30" y1="474.40" x2="57.30" y2="474.40" stroke="#2a2a2a" stroke-width="1" />
<text x="50.30" y="477.10" font-size="7.6" fill="#333" text-anchor="end" >10<tspan font-size="5.2" dy="-3.3">7</tspan></text>
<line x1="54.30" y1="455.40" x2="57.30" y2="455.40" stroke="#2a2a2a" stroke-width="1" />
<text x="50.30" y="458.10" font-size="7.6" fill="#333" text-anchor="end" >10<tspan font-size="5.2" dy="-3.3">8</tspan></text>
<line x1="57.30" y1="451.70" x2="57.30" y2="550.90" stroke="#2a2a2a" stroke-width="1.2" />
<line x1="56.80" y1="550.40" x2="139.40" y2="550.40" stroke="#2a2a2a" stroke-width="1.2" />
<line x1="57.30" y1="550.40" x2="57.30" y2="553.50" stroke="#2a2a2a" stroke-width="1" />
<text x="57.30" y="563.00" font-size="8.2" fill="#333" text-anchor="middle" textLength="3.85" lengthAdjust="spacingAndGlyphs" >0</text>
<line x1="70.55" y1="550.40" x2="70.55" y2="553.50" stroke="#2a2a2a" stroke-width="1" />
<text x="70.55" y="563.00" font-size="8.2" fill="#333" text-anchor="middle" textLength="3.85" lengthAdjust="spacingAndGlyphs" >5</text>
<line x1="83.80" y1="550.40" x2="83.80" y2="553.50" stroke="#2a2a2a" stroke-width="1" />
<text x="83.80" y="563.00" font-size="8.2" fill="#333" text-anchor="middle" textLength="7.7" lengthAdjust="spacingAndGlyphs" >10</text>
<line x1="97.05" y1="550.40" x2="97.05" y2="553.50" stroke="#2a2a2a" stroke-width="1" />
<text x="97.05" y="563.00" font-size="8.2" fill="#333" text-anchor="middle" textLength="7.7" lengthAdjust="spacingAndGlyphs" >15</text>
<line x1="110.30" y1="550.40" x2="110.30" y2="553.50" stroke="#2a2a2a" stroke-width="1" />
<text x="110.30" y="563.00" font-size="8.2" fill="#333" text-anchor="middle" textLength="7.7" lengthAdjust="spacingAndGlyphs" >20</text>
<line x1="123.55" y1="550.40" x2="123.55" y2="553.50" stroke="#2a2a2a" stroke-width="1" />
<text x="123.55" y="563.00" font-size="8.2" fill="#333" text-anchor="middle" textLength="7.7" lengthAdjust="spacingAndGlyphs" >25</text>
<line x1="136.80" y1="550.40" x2="136.80" y2="553.50" stroke="#2a2a2a" stroke-width="1" />
<text x="136.80" y="563.00" font-size="8.2" fill="#333" text-anchor="middle" textLength="7.7" lengthAdjust="spacingAndGlyphs" >30</text>
<text x="56.00" y="576.60" font-size="10" fill="#333" textLength="82.6" lengthAdjust="spacingAndGlyphs" >Days post T cell injection</text>
<text x="21.80" y="500.60" font-size="9.3" fill="#333" text-anchor="middle" textLength="58.2" lengthAdjust="spacingAndGlyphs" transform="rotate(-90 21.80 500.60)" >Bioluminescence</text>
<text x="33.00" y="500.30" font-size="9.3" fill="#333" text-anchor="middle" textLength="44.9" lengthAdjust="spacingAndGlyphs" transform="rotate(-90 33.00 500.30)" >(total counts)</text>
<path d="M75.85 540.50 L94.40 538.80 L112.95 542.80 L131.50 531.30" fill="none" stroke="#5a2a6a" stroke-width="1.3" stroke-linejoin="round"/>
<line x1="94.40" y1="468.50" x2="94.40" y2="465.50" stroke="#1f3a6e" stroke-width="1" />
<line x1="92.20" y1="465.50" x2="96.60" y2="465.50" stroke="#1f3a6e" stroke-width="1" />
<line x1="112.95" y1="483.80" x2="112.95" y2="480.00" stroke="#1f3a6e" stroke-width="1" />
<line x1="110.75" y1="480.00" x2="115.15" y2="480.00" stroke="#1f3a6e" stroke-width="1" />
<line x1="75.85" y1="500.30" x2="75.85" y2="498.80" stroke="#1f3a6e" stroke-width="1" />
<line x1="73.65" y1="498.80" x2="78.05" y2="498.80" stroke="#1f3a6e" stroke-width="1" />
<line x1="131.50" y1="492.20" x2="131.50" y2="488.40" stroke="#b3203c" stroke-width="1" />
<line x1="129.30" y1="488.40" x2="133.70" y2="488.40" stroke="#b3203c" stroke-width="1" />
<path d="M75.85 504.30 L94.40 479.30 L112.95 483.60 L131.50 482.50" fill="none" stroke="#3cae49" stroke-width="1.5" stroke-linejoin="round"/>
<path d="M75.85 501.50 L94.40 473.00 L112.95 483.80 L131.50 492.20" fill="none" stroke="#b3203c" stroke-width="1.6" stroke-linejoin="round"/>
<path d="M75.85 500.30 L94.40 468.50 L112.95 483.80 L131.50 494.20" fill="none" stroke="#1f3a6e" stroke-width="1.6" stroke-linejoin="round"/>
<circle cx="75.85" cy="504.30" r="1.3" fill="#3cae49"/>
<circle cx="94.40" cy="479.30" r="1.3" fill="#3cae49"/>
<circle cx="112.95" cy="483.60" r="1.3" fill="#3cae49"/>
<circle cx="131.50" cy="482.50" r="1.3" fill="#3cae49"/>
<path d="M75.85 501.86L77.41 499.00L74.29 499.00Z" fill="#1f3a6e"/>
<path d="M94.40 470.06L95.96 467.20L92.84 467.20Z" fill="#1f3a6e"/>
<path d="M112.95 485.36L114.51 482.50L111.39 482.50Z" fill="#1f3a6e"/>
<path d="M131.50 495.76L133.06 492.90L129.94 492.90Z" fill="#1f3a6e"/>
<rect x="74.25" y="538.90" width="3.2" height="3.2" fill="#fff" stroke="#5a2a6a" stroke-width="0.9"/>
<rect x="92.80" y="537.20" width="3.2" height="3.2" fill="#fff" stroke="#5a2a6a" stroke-width="0.9"/>
<rect x="111.35" y="541.20" width="3.2" height="3.2" fill="#fff" stroke="#5a2a6a" stroke-width="0.9"/>
<rect x="129.90" y="529.70" width="3.2" height="3.2" fill="#fff" stroke="#5a2a6a" stroke-width="0.9"/>
<line x1="140.00" y1="504.60" x2="149.00" y2="504.60" stroke="#5a2a6a" stroke-width="1.1" />
<rect x="142.90" y="503.00" width="3.2" height="3.2" fill="#fff" stroke="#5a2a6a" stroke-width="0.9"/>
<text x="154.00" y="507.40" font-size="7.3" fill="#333" textLength="53.2" lengthAdjust="spacingAndGlyphs" >LCL only (n = 3)</text>
<line x1="140.00" y1="514.30" x2="149.00" y2="514.30" stroke="#1f3a6e" stroke-width="1.1" />
<path d="M144.50 515.62L145.82 513.20L143.18 513.20Z" fill="#1f3a6e"/>
<text x="154.00" y="517.10" font-size="7.3" fill="#333" textLength="55.5" lengthAdjust="spacingAndGlyphs" >LCL + VST (n = 6)</text>
<line x1="140.00" y1="524.10" x2="149.00" y2="524.10" stroke="#b3203c" stroke-width="1.1" />
<circle cx="144.50" cy="524.10" r="1.1" fill="#b3203c"/>
<text x="154.00" y="526.90" font-size="7.3" fill="#333" textLength="79.5" lengthAdjust="spacingAndGlyphs" >LCL + VST + Ctrl T (n = 7)</text>
<line x1="140.00" y1="534.50" x2="149.00" y2="534.50" stroke="#3cae49" stroke-width="1.1" />
<circle cx="144.50" cy="534.50" r="1.1" fill="#3cae49"/>
<text x="154.00" y="537.30" font-size="7.3" fill="#333" textLength="94.1" lengthAdjust="spacingAndGlyphs" >LCL + VST + ADR T (n = 7)</text>
<text x="256.00" y="443.90" font-size="11.2" fill="#111" font-weight="bold" >F</text>
<text x="320.40" y="448.80" font-size="9.8" fill="#222" textLength="50.9" lengthAdjust="spacingAndGlyphs" >LCL growth</text>
<line x1="302.20" y1="546.66" x2="305.20" y2="546.66" stroke="#2a2a2a" stroke-width="1" />
<text x="298.40" y="549.26" font-size="7.8" fill="#333" text-anchor="end" >0</text>
<line x1="302.20" y1="533.60" x2="305.20" y2="533.60" stroke="#2a2a2a" stroke-width="1" />
<text x="298.40" y="536.20" font-size="7.8" fill="#333" text-anchor="end" >500</text>
<line x1="302.20" y1="520.53" x2="305.20" y2="520.53" stroke="#2a2a2a" stroke-width="1" />
<text x="298.40" y="523.13" font-size="7.8" fill="#333" text-anchor="end" >1000</text>
<line x1="302.20" y1="507.47" x2="305.20" y2="507.47" stroke="#2a2a2a" stroke-width="1" />
<text x="298.40" y="510.07" font-size="7.8" fill="#333" text-anchor="end" >1500</text>
<line x1="302.20" y1="494.41" x2="305.20" y2="494.41" stroke="#2a2a2a" stroke-width="1" />
<text x="298.40" y="497.01" font-size="7.8" fill="#333" text-anchor="end" >2000</text>
<line x1="302.20" y1="481.34" x2="305.20" y2="481.34" stroke="#2a2a2a" stroke-width="1" />
<text x="298.40" y="483.94" font-size="7.8" fill="#333" text-anchor="end" >2500</text>
<line x1="302.20" y1="468.28" x2="305.20" y2="468.28" stroke="#2a2a2a" stroke-width="1" />
<text x="298.40" y="470.88" font-size="7.8" fill="#333" text-anchor="end" >3000</text>
<line x1="302.20" y1="455.22" x2="305.20" y2="455.22" stroke="#2a2a2a" stroke-width="1" />
<text x="298.40" y="457.82" font-size="7.8" fill="#333" text-anchor="end" >3500</text>
<line x1="305.20" y1="452.00" x2="305.20" y2="547.40" stroke="#2a2a2a" stroke-width="1.25" />
<line x1="304.60" y1="546.90" x2="392.00" y2="546.90" stroke="#2a2a2a" stroke-width="1.25" />
<line x1="305.20" y1="546.90" x2="305.20" y2="550.00" stroke="#2a2a2a" stroke-width="1.1" />
<text x="305.20" y="560.40" font-size="8.2" fill="#333" text-anchor="middle" textLength="3.85" lengthAdjust="spacingAndGlyphs" >0</text>
<line x1="319.30" y1="546.90" x2="319.30" y2="550.00" stroke="#2a2a2a" stroke-width="1.1" />
<text x="319.30" y="560.40" font-size="8.2" fill="#333" text-anchor="middle" textLength="3.85" lengthAdjust="spacingAndGlyphs" >5</text>
<line x1="333.40" y1="546.90" x2="333.40" y2="550.00" stroke="#2a2a2a" stroke-width="1.1" />
<text x="333.40" y="560.40" font-size="8.2" fill="#333" text-anchor="middle" textLength="7.7" lengthAdjust="spacingAndGlyphs" >10</text>
<line x1="347.50" y1="546.90" x2="347.50" y2="550.00" stroke="#2a2a2a" stroke-width="1.1" />
<text x="347.50" y="560.40" font-size="8.2" fill="#333" text-anchor="middle" textLength="7.7" lengthAdjust="spacingAndGlyphs" >15</text>
<line x1="361.60" y1="546.90" x2="361.60" y2="550.00" stroke="#2a2a2a" stroke-width="1.1" />
<text x="361.60" y="560.40" font-size="8.2" fill="#333" text-anchor="middle" textLength="7.7" lengthAdjust="spacingAndGlyphs" >20</text>
<line x1="375.70" y1="546.90" x2="375.70" y2="550.00" stroke="#2a2a2a" stroke-width="1.1" />
<text x="375.70" y="560.40" font-size="8.2" fill="#333" text-anchor="middle" textLength="7.7" lengthAdjust="spacingAndGlyphs" >25</text>
<line x1="389.80" y1="546.90" x2="389.80" y2="550.00" stroke="#2a2a2a" stroke-width="1.1" />
<text x="389.80" y="560.40" font-size="8.2" fill="#333" text-anchor="middle" textLength="7.7" lengthAdjust="spacingAndGlyphs" >30</text>
<text x="305.40" y="573.80" font-size="10" fill="#333" textLength="82.9" lengthAdjust="spacingAndGlyphs" >Days post T cell injection</text>
<text x="275.60" y="530.60" font-size="8.8" fill="#333" textLength="38.8" lengthAdjust="spacingAndGlyphs" transform="rotate(-90 275.60 530.60)" >LCL volume</text>
<text x="275.60" y="490.30" font-size="8.8" fill="#333" textLength="22.4" lengthAdjust="spacingAndGlyphs" transform="rotate(-90 275.60 490.30)" >(mm<tspan font-size="6" dy="-3.4">3</tspan><tspan dy="3.4">)</tspan></text>
<line x1="324.94" y1="535.70" x2="324.94" y2="531.70" stroke="#5a2a6a" stroke-width="0.9" />
<line x1="322.74" y1="531.70" x2="327.14" y2="531.70" stroke="#5a2a6a" stroke-width="0.9" />
<line x1="344.68" y1="522.20" x2="344.68" y2="510.90" stroke="#5a2a6a" stroke-width="0.9" />
<line x1="342.48" y1="510.90" x2="346.88" y2="510.90" stroke="#5a2a6a" stroke-width="0.9" />
<line x1="364.42" y1="498.10" x2="364.42" y2="485.30" stroke="#5a2a6a" stroke-width="0.9" />
<line x1="362.22" y1="485.30" x2="366.62" y2="485.30" stroke="#5a2a6a" stroke-width="0.9" />
<line x1="384.16" y1="485.50" x2="384.16" y2="461.60" stroke="#5a2a6a" stroke-width="0.9" />
<line x1="381.96" y1="461.60" x2="386.36" y2="461.60" stroke="#5a2a6a" stroke-width="0.9" />
<line x1="364.42" y1="536.30" x2="364.42" y2="531.00" stroke="#3cae49" stroke-width="1" />
<line x1="362.22" y1="531.00" x2="366.62" y2="531.00" stroke="#3cae49" stroke-width="1" />
<line x1="384.16" y1="542.40" x2="384.16" y2="539.00" stroke="#3cae49" stroke-width="1" />
<line x1="381.96" y1="539.00" x2="386.36" y2="539.00" stroke="#3cae49" stroke-width="1" />
<path d="M305.20 543.50 L324.94 535.70 L344.68 522.20 L364.42 498.10 L384.16 485.50" fill="none" stroke="#5a2a6a" stroke-width="1.2" stroke-linejoin="round"/>
<rect x="303.30" y="541.60" width="3.8" height="3.8" fill="#fff" stroke="#5a2a6a" stroke-width="1"/>
<rect x="323.04" y="533.80" width="3.8" height="3.8" fill="#fff" stroke="#5a2a6a" stroke-width="1"/>
<rect x="342.78" y="520.30" width="3.8" height="3.8" fill="#fff" stroke="#5a2a6a" stroke-width="1"/>
<rect x="362.52" y="496.20" width="3.8" height="3.8" fill="#fff" stroke="#5a2a6a" stroke-width="1"/>
<rect x="382.26" y="483.60" width="3.8" height="3.8" fill="#fff" stroke="#5a2a6a" stroke-width="1"/>
<path d="M305.20 543.50 L324.94 537.00 L344.68 532.50 L364.42 541.20 L384.16 546.00" fill="none" stroke="#b3203c" stroke-width="1.4" stroke-linejoin="round"/>
<path d="M305.20 543.50 L324.94 535.20 L344.68 528.50 L364.42 538.40 L384.16 543.00" fill="none" stroke="#1f3a6e" stroke-width="1.4" stroke-linejoin="round"/>
<path d="M305.20 543.50 L324.94 535.80 L344.68 534.00 L364.42 536.30 L384.16 542.40" fill="none" stroke="#3cae49" stroke-width="1.5" stroke-linejoin="round"/>
<circle cx="305.20" cy="543.50" r="1.2" fill="#b3203c"/>
<circle cx="324.94" cy="537.00" r="1.2" fill="#b3203c"/>
<circle cx="344.68" cy="532.50" r="1.2" fill="#b3203c"/>
<circle cx="364.42" cy="541.20" r="1.2" fill="#b3203c"/>
<circle cx="384.16" cy="546.00" r="1.2" fill="#b3203c"/>
<path d="M305.20 541.94L306.76 544.80L303.64 544.80Z" fill="#1f3a6e"/>
<path d="M324.94 533.64L326.50 536.50L323.38 536.50Z" fill="#1f3a6e"/>
<path d="M344.68 526.94L346.24 529.80L343.12 529.80Z" fill="#1f3a6e"/>
<path d="M364.42 536.84L365.98 539.70L362.86 539.70Z" fill="#1f3a6e"/>
<path d="M384.16 541.44L385.72 544.30L382.60 544.30Z" fill="#1f3a6e"/>
<rect x="303.60" y="541.90" width="3.2" height="3.2" fill="#3cae49"/>
<rect x="323.34" y="534.20" width="3.2" height="3.2" fill="#3cae49"/>
<rect x="343.08" y="532.40" width="3.2" height="3.2" fill="#3cae49"/>
<rect x="362.82" y="534.70" width="3.2" height="3.2" fill="#3cae49"/>
<rect x="382.56" y="540.80" width="3.2" height="3.2" fill="#3cae49"/>
<line x1="389.60" y1="502.20" x2="398.80" y2="502.20" stroke="#5a2a6a" stroke-width="1.1" />
<rect x="392.60" y="500.60" width="3.2" height="3.2" fill="#fff" stroke="#5a2a6a" stroke-width="0.9"/>
<text x="403.80" y="505.00" font-size="7.3" fill="#333" textLength="52.6" lengthAdjust="spacingAndGlyphs" >LCL only (n = 3)</text>
<line x1="389.60" y1="512.30" x2="398.80" y2="512.30" stroke="#1f3a6e" stroke-width="1.1" />
<path d="M394.20 513.62L395.52 511.20L392.88 511.20Z" fill="#1f3a6e"/>
<text x="403.80" y="515.10" font-size="7.3" fill="#333" textLength="53.5" lengthAdjust="spacingAndGlyphs" >LCL + VST (n = 6)</text>
<line x1="389.60" y1="522.20" x2="398.80" y2="522.20" stroke="#b3203c" stroke-width="1.1" />
<circle cx="394.20" cy="522.20" r="1.1" fill="#b3203c"/>
<text x="403.80" y="525.00" font-size="7.3" fill="#333" textLength="76.9" lengthAdjust="spacingAndGlyphs" >LCL + VST + Ctrl T (n = 7)</text>
<line x1="389.60" y1="532.40" x2="398.80" y2="532.40" stroke="#3cae49" stroke-width="1.1" />
<circle cx="394.20" cy="532.40" r="1.1" fill="#3cae49"/>
<text x="403.80" y="535.20" font-size="7.3" fill="#333" textLength="94.2" lengthAdjust="spacingAndGlyphs" >LCL + VST + ADR T (n = 7)</text>
<line x1="501.50" y1="518.50" x2="501.50" y2="534.30" stroke="#222" stroke-width="1.1" />
<text x="504.80" y="528.80" font-size="8.2" fill="#222" font-style="italic" textLength="8.6" lengthAdjust="spacingAndGlyphs" >ns</text>
<rect x="0.5" y="0.5" width="519" height="585" fill="none" stroke="#2a2a2a" stroke-width="1"/>
</svg>
</body></html>
